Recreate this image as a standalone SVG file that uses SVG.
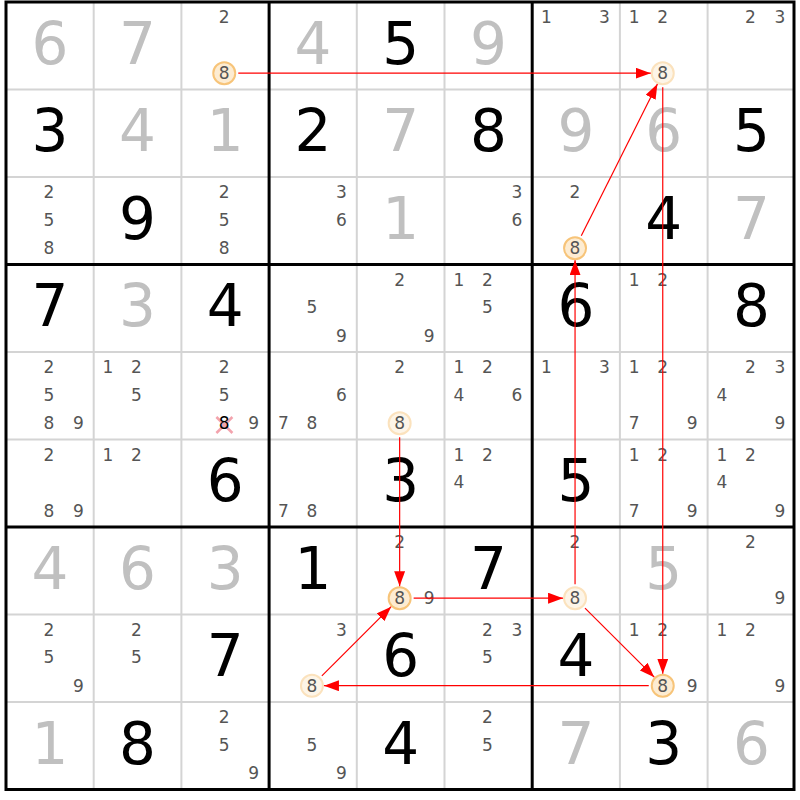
<svg xmlns="http://www.w3.org/2000/svg" width="800" height="800" viewBox="0 0 800 800">
<style>
text{font-family:"DejaVu Sans","Liberation Sans",sans-serif;text-anchor:middle}
.g{font-size:58px;fill:#c0c0c0}
.s{font-size:58px;fill:#000}
.c{font-size:17px;fill:#555}
.x{font-size:17px;fill:#000}
.thin{stroke:#d4d4d4;stroke-width:2}
.thick{stroke:#000;stroke-width:3}
.h1{fill:#fdecd2;stroke:#f7c479;stroke-width:2}
.h2{fill:#fdf5e8;stroke:#fbe2bd;stroke-width:2}
.link{stroke:#f00;stroke-width:1.2;fill:none;marker-end:url(#ah)}
.elim{stroke:#f3a3ad;stroke-width:2.5}
</style>
<defs>
<marker id="ah" markerUnits="userSpaceOnUse" markerWidth="15" markerHeight="11" refX="15" refY="5.5" orient="auto">
<path d="M0,0 L15,5.5 L0,11 z" fill="#f00"/>
</marker>
</defs>
<rect x="0" y="0" width="800" height="800" fill="#fff"/>
<g id="grid">
<line class="thin" x1="93.7" y1="2" x2="93.7" y2="789.5"/>
<line class="thin" x1="181.4" y1="2" x2="181.4" y2="789.5"/>
<line class="thin" x1="356.8" y1="2" x2="356.8" y2="789.5"/>
<line class="thin" x1="444.5" y1="2" x2="444.5" y2="789.5"/>
<line class="thin" x1="619.9" y1="2" x2="619.9" y2="789.5"/>
<line class="thin" x1="707.6" y1="2" x2="707.6" y2="789.5"/>
<line class="thin" x1="6" y1="89.5" x2="794" y2="89.5"/>
<line class="thin" x1="6" y1="177" x2="794" y2="177"/>
<line class="thin" x1="6" y1="352" x2="794" y2="352"/>
<line class="thin" x1="6" y1="439.5" x2="794" y2="439.5"/>
<line class="thin" x1="6" y1="614.5" x2="794" y2="614.5"/>
<line class="thin" x1="6" y1="702" x2="794" y2="702"/>
<line class="thick" x1="269.1" y1="2" x2="269.1" y2="789.5"/>
<line class="thick" x1="532.2" y1="2" x2="532.2" y2="789.5"/>
<line class="thick" x1="6" y1="264.5" x2="794" y2="264.5"/>
<line class="thick" x1="6" y1="527" x2="794" y2="527"/>
<rect class="thick" x="6" y="2" width="788" height="787.5" fill="none"/>
</g>
<!-- Row 1 -->
<g id="r1c1" transform="translate(6,2)"><text class="g" x="43.85" y="61.75">6</text></g>
<g id="r1c2" transform="translate(93.7,2)"><text class="g" x="43.85" y="61.75">7</text></g>
<g id="r1c3" transform="translate(181.4,2)"><text class="c" x="42.85" y="21">2</text><circle class="h1" cx="42.85" cy="71.2" r="11"/><text class="c" x="42.85" y="77">8</text></g>
<g id="r1c4" transform="translate(269.1,2)"><text class="g" x="43.85" y="61.75">4</text></g>
<g id="r1c5" transform="translate(356.8,2)"><text class="s" x="43.85" y="61.75">5</text></g>
<g id="r1c6" transform="translate(444.5,2)"><text class="g" x="43.85" y="61.75">9</text></g>
<g id="r1c7" transform="translate(532.2,2)"><text class="c" x="14.35" y="21">1</text><text class="c" x="72.35" y="21">3</text></g>
<g id="r1c8" transform="translate(619.9,2)"><text class="c" x="14.35" y="21">1</text><text class="c" x="42.85" y="21">2</text><circle class="h2" cx="42.85" cy="71.2" r="11"/><text class="c" x="42.85" y="77">8</text></g>
<g id="r1c9" transform="translate(707.6,2)"><text class="c" x="42.85" y="21">2</text><text class="c" x="72.35" y="21">3</text></g>
<!-- Row 2 -->
<g id="r2c1" transform="translate(6,89.5)"><text class="s" x="43.85" y="61.75">3</text></g>
<g id="r2c2" transform="translate(93.7,89.5)"><text class="g" x="43.85" y="61.75">4</text></g>
<g id="r2c3" transform="translate(181.4,89.5)"><text class="g" x="43.85" y="61.75">1</text></g>
<g id="r2c4" transform="translate(269.1,89.5)"><text class="s" x="43.85" y="61.75">2</text></g>
<g id="r2c5" transform="translate(356.8,89.5)"><text class="g" x="43.85" y="61.75">7</text></g>
<g id="r2c6" transform="translate(444.5,89.5)"><text class="s" x="43.85" y="61.75">8</text></g>
<g id="r2c7" transform="translate(532.2,89.5)"><text class="g" x="43.85" y="61.75">9</text></g>
<g id="r2c8" transform="translate(619.9,89.5)"><text class="g" x="43.85" y="61.75">6</text></g>
<g id="r2c9" transform="translate(707.6,89.5)"><text class="s" x="43.85" y="61.75">5</text></g>
<!-- Row 3 -->
<g id="r3c1" transform="translate(6,177)"><text class="c" x="42.85" y="21">2</text><text class="c" x="42.85" y="48.5">5</text><text class="c" x="42.85" y="77">8</text></g>
<g id="r3c2" transform="translate(93.7,177)"><text class="s" x="43.85" y="61.75">9</text></g>
<g id="r3c3" transform="translate(181.4,177)"><text class="c" x="42.85" y="21">2</text><text class="c" x="42.85" y="48.5">5</text><text class="c" x="42.85" y="77">8</text></g>
<g id="r3c4" transform="translate(269.1,177)"><text class="c" x="72.35" y="21">3</text><text class="c" x="72.35" y="48.5">6</text></g>
<g id="r3c5" transform="translate(356.8,177)"><text class="g" x="43.85" y="61.75">1</text></g>
<g id="r3c6" transform="translate(444.5,177)"><text class="c" x="72.35" y="21">3</text><text class="c" x="72.35" y="48.5">6</text></g>
<g id="r3c7" transform="translate(532.2,177)"><text class="c" x="42.85" y="21">2</text><circle class="h1" cx="42.85" cy="71.2" r="11"/><text class="c" x="42.85" y="77">8</text></g>
<g id="r3c8" transform="translate(619.9,177)"><text class="s" x="43.85" y="61.75">4</text></g>
<g id="r3c9" transform="translate(707.6,177)"><text class="g" x="43.85" y="61.75">7</text></g>
<!-- Row 4 -->
<g id="r4c1" transform="translate(6,264.5)"><text class="s" x="43.85" y="61.75">7</text></g>
<g id="r4c2" transform="translate(93.7,264.5)"><text class="g" x="43.85" y="61.75">3</text></g>
<g id="r4c3" transform="translate(181.4,264.5)"><text class="s" x="43.85" y="61.75">4</text></g>
<g id="r4c4" transform="translate(269.1,264.5)"><text class="c" x="42.85" y="48.5">5</text><text class="c" x="72.35" y="77">9</text></g>
<g id="r4c5" transform="translate(356.8,264.5)"><text class="c" x="42.85" y="21">2</text><text class="c" x="72.35" y="77">9</text></g>
<g id="r4c6" transform="translate(444.5,264.5)"><text class="c" x="14.35" y="21">1</text><text class="c" x="42.85" y="21">2</text><text class="c" x="42.85" y="48.5">5</text></g>
<g id="r4c7" transform="translate(532.2,264.5)"><text class="s" x="43.85" y="61.75">6</text></g>
<g id="r4c8" transform="translate(619.9,264.5)"><text class="c" x="14.35" y="21">1</text><text class="c" x="42.85" y="21">2</text></g>
<g id="r4c9" transform="translate(707.6,264.5)"><text class="s" x="43.85" y="61.75">8</text></g>
<!-- Row 5 -->
<g id="r5c1" transform="translate(6,352)"><text class="c" x="42.85" y="21">2</text><text class="c" x="42.85" y="48.5">5</text><text class="c" x="42.85" y="77">8</text><text class="c" x="72.35" y="77">9</text></g>
<g id="r5c2" transform="translate(93.7,352)"><text class="c" x="14.35" y="21">1</text><text class="c" x="42.85" y="21">2</text><text class="c" x="42.85" y="48.5">5</text></g>
<g id="r5c3" transform="translate(181.4,352)"><text class="c" x="42.85" y="21">2</text><text class="c" x="42.85" y="48.5">5</text><line class="elim" x1="35" y1="65" x2="51" y2="81"/><line class="elim" x1="51" y1="65" x2="35" y2="81"/><text class="x" x="42.85" y="77">8</text><text class="c" x="72.35" y="77">9</text></g>
<g id="r5c4" transform="translate(269.1,352)"><text class="c" x="72.35" y="48.5">6</text><text class="c" x="14.35" y="77">7</text><text class="c" x="42.85" y="77">8</text></g>
<g id="r5c5" transform="translate(356.8,352)"><text class="c" x="42.85" y="21">2</text><circle class="h2" cx="42.85" cy="71.2" r="11"/><text class="c" x="42.85" y="77">8</text></g>
<g id="r5c6" transform="translate(444.5,352)"><text class="c" x="14.35" y="21">1</text><text class="c" x="42.85" y="21">2</text><text class="c" x="14.35" y="48.5">4</text><text class="c" x="72.35" y="48.5">6</text></g>
<g id="r5c7" transform="translate(532.2,352)"><text class="c" x="14.35" y="21">1</text><text class="c" x="72.35" y="21">3</text></g>
<g id="r5c8" transform="translate(619.9,352)"><text class="c" x="14.35" y="21">1</text><text class="c" x="42.85" y="21">2</text><text class="c" x="14.35" y="77">7</text><text class="c" x="72.35" y="77">9</text></g>
<g id="r5c9" transform="translate(707.6,352)"><text class="c" x="42.85" y="21">2</text><text class="c" x="72.35" y="21">3</text><text class="c" x="14.35" y="48.5">4</text><text class="c" x="72.35" y="77">9</text></g>
<!-- Row 6 -->
<g id="r6c1" transform="translate(6,439.5)"><text class="c" x="42.85" y="21">2</text><text class="c" x="42.85" y="77">8</text><text class="c" x="72.35" y="77">9</text></g>
<g id="r6c2" transform="translate(93.7,439.5)"><text class="c" x="14.35" y="21">1</text><text class="c" x="42.85" y="21">2</text></g>
<g id="r6c3" transform="translate(181.4,439.5)"><text class="s" x="43.85" y="61.75">6</text></g>
<g id="r6c4" transform="translate(269.1,439.5)"><text class="c" x="14.35" y="77">7</text><text class="c" x="42.85" y="77">8</text></g>
<g id="r6c5" transform="translate(356.8,439.5)"><text class="s" x="43.85" y="61.75">3</text></g>
<g id="r6c6" transform="translate(444.5,439.5)"><text class="c" x="14.35" y="21">1</text><text class="c" x="42.85" y="21">2</text><text class="c" x="14.35" y="48.5">4</text></g>
<g id="r6c7" transform="translate(532.2,439.5)"><text class="s" x="43.85" y="61.75">5</text></g>
<g id="r6c8" transform="translate(619.9,439.5)"><text class="c" x="14.35" y="21">1</text><text class="c" x="42.85" y="21">2</text><text class="c" x="14.35" y="77">7</text><text class="c" x="72.35" y="77">9</text></g>
<g id="r6c9" transform="translate(707.6,439.5)"><text class="c" x="14.35" y="21">1</text><text class="c" x="42.85" y="21">2</text><text class="c" x="14.35" y="48.5">4</text><text class="c" x="72.35" y="77">9</text></g>
<!-- Row 7 -->
<g id="r7c1" transform="translate(6,527)"><text class="g" x="43.85" y="61.75">4</text></g>
<g id="r7c2" transform="translate(93.7,527)"><text class="g" x="43.85" y="61.75">6</text></g>
<g id="r7c3" transform="translate(181.4,527)"><text class="g" x="43.85" y="61.75">3</text></g>
<g id="r7c4" transform="translate(269.1,527)"><text class="s" x="43.85" y="61.75">1</text></g>
<g id="r7c5" transform="translate(356.8,527)"><text class="c" x="42.85" y="21">2</text><circle class="h1" cx="42.85" cy="71.2" r="11"/><text class="c" x="42.85" y="77">8</text><text class="c" x="72.35" y="77">9</text></g>
<g id="r7c6" transform="translate(444.5,527)"><text class="s" x="43.85" y="61.75">7</text></g>
<g id="r7c7" transform="translate(532.2,527)"><text class="c" x="42.85" y="21">2</text><circle class="h2" cx="42.85" cy="71.2" r="11"/><text class="c" x="42.85" y="77">8</text></g>
<g id="r7c8" transform="translate(619.9,527)"><text class="g" x="43.85" y="61.75">5</text></g>
<g id="r7c9" transform="translate(707.6,527)"><text class="c" x="42.85" y="21">2</text><text class="c" x="72.35" y="77">9</text></g>
<!-- Row 8 -->
<g id="r8c1" transform="translate(6,614.5)"><text class="c" x="42.85" y="21">2</text><text class="c" x="42.85" y="48.5">5</text><text class="c" x="72.35" y="77">9</text></g>
<g id="r8c2" transform="translate(93.7,614.5)"><text class="c" x="42.85" y="21">2</text><text class="c" x="42.85" y="48.5">5</text></g>
<g id="r8c3" transform="translate(181.4,614.5)"><text class="s" x="43.85" y="61.75">7</text></g>
<g id="r8c4" transform="translate(269.1,614.5)"><text class="c" x="72.35" y="21">3</text><circle class="h2" cx="42.85" cy="71.2" r="11"/><text class="c" x="42.85" y="77">8</text></g>
<g id="r8c5" transform="translate(356.8,614.5)"><text class="s" x="43.85" y="61.75">6</text></g>
<g id="r8c6" transform="translate(444.5,614.5)"><text class="c" x="42.85" y="21">2</text><text class="c" x="72.35" y="21">3</text><text class="c" x="42.85" y="48.5">5</text></g>
<g id="r8c7" transform="translate(532.2,614.5)"><text class="s" x="43.85" y="61.75">4</text></g>
<g id="r8c8" transform="translate(619.9,614.5)"><text class="c" x="14.35" y="21">1</text><text class="c" x="42.85" y="21">2</text><circle class="h1" cx="42.85" cy="71.2" r="11"/><text class="c" x="42.85" y="77">8</text><text class="c" x="72.35" y="77">9</text></g>
<g id="r8c9" transform="translate(707.6,614.5)"><text class="c" x="14.35" y="21">1</text><text class="c" x="42.85" y="21">2</text><text class="c" x="72.35" y="77">9</text></g>
<!-- Row 9 -->
<g id="r9c1" transform="translate(6,702)"><text class="g" x="43.85" y="61.75">1</text></g>
<g id="r9c2" transform="translate(93.7,702)"><text class="s" x="43.85" y="61.75">8</text></g>
<g id="r9c3" transform="translate(181.4,702)"><text class="c" x="42.85" y="21">2</text><text class="c" x="42.85" y="48.5">5</text><text class="c" x="72.35" y="77">9</text></g>
<g id="r9c4" transform="translate(269.1,702)"><text class="c" x="42.85" y="48.5">5</text><text class="c" x="72.35" y="77">9</text></g>
<g id="r9c5" transform="translate(356.8,702)"><text class="s" x="43.85" y="61.75">4</text></g>
<g id="r9c6" transform="translate(444.5,702)"><text class="c" x="42.85" y="21">2</text><text class="c" x="42.85" y="48.5">5</text></g>
<g id="r9c7" transform="translate(532.2,702)"><text class="g" x="43.85" y="61.75">7</text></g>
<g id="r9c8" transform="translate(619.9,702)"><text class="s" x="43.85" y="61.75">3</text></g>
<g id="r9c9" transform="translate(707.6,702)"><text class="g" x="43.85" y="61.75">6</text></g>
<g id="connectors">
<line class="link" x1="238.25" y1="73.2" x2="650.75" y2="73.2"/>
<line class="link" x1="581.3" y1="235.7" x2="657.4" y2="83.9"/>
<line class="link" x1="662.75" y1="87.2" x2="662.75" y2="673.7"/>
<line class="link" x1="585" y1="608.1" x2="654.25" y2="677.2"/>
<line class="link" x1="648.75" y1="685.7" x2="323.95" y2="685.7"/>
<line class="link" x1="321.85" y1="675.8" x2="391.15" y2="606.7"/>
<line class="link" x1="399.65" y1="437.2" x2="399.65" y2="586.2"/>
<line class="link" x1="413.65" y1="598.2" x2="563.05" y2="598.2"/>
<line class="link" x1="575.05" y1="584.2" x2="575.05" y2="260.2"/>
</g>
</svg>
